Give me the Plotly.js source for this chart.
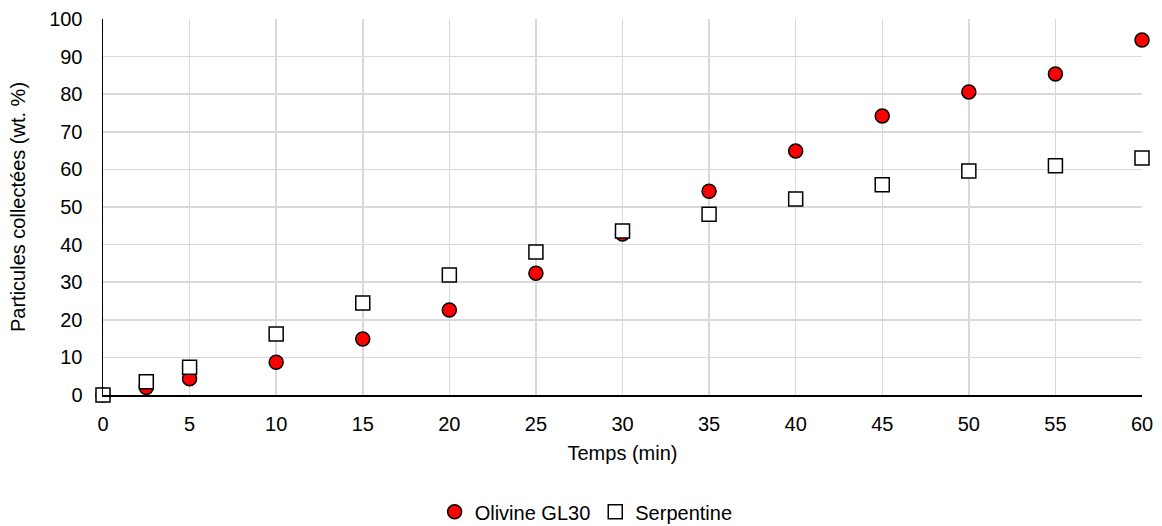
<!DOCTYPE html>
<html><head><meta charset="utf-8">
<script src="https://cdn.plot.ly/plotly-3.0.1.min.js"></script>
<style>html,body{margin:0;padding:0;background:#fff}</style>
</head><body><div id="chart" style="width:1162px;height:526px"></div>
<script>
const timeOlivine = [0, 2.5, 5, 10, 15, 20, 25, 30, 35, 40, 45, 50, 55, 60];
const olivine = [0, 2, 4.3, 8.7, 14.9, 22.6, 32.4, 42.8, 54.2, 64.9, 74.2, 80.6, 85.4, 94.4];
const timeSerp = [0, 2.5, 5, 10, 15, 20, 25, 30, 35, 40, 45, 50, 55, 60];
const serpentine = [0, 3.5, 7.4, 16.2, 24.5, 31.9, 38, 43.6, 48.1, 52.1, 55.9, 59.6, 61, 63];
const xTicks = [0,5,10,15,20,25,30,35,40,45,50,55,60];
const yTicks = [0,10,20,30,40,50,60,70,80,90,100];

const font = {family: 'Liberation Sans, Arial, sans-serif', size: 20, color: '#000'};
const traces = [
  {x: timeOlivine, y: olivine, name: 'Olivine GL30', mode: 'markers', type: 'scatter',
   marker: {symbol: 'circle', size: 14, color: '#ff0000', line: {color: '#000', width: 1.5}}, cliponaxis: false},
  {x: timeSerp, y: serpentine, name: 'Serpentine', mode: 'markers', type: 'scatter',
   marker: {symbol: 'square', size: 14, color: '#ffffff', line: {color: '#000', width: 1.5}}, cliponaxis: false}
];
const layout = {
  width: 1162, height: 526,
  margin: {l: 103, r: 20, t: 19, b: 131},
  paper_bgcolor: '#fff', plot_bgcolor: '#fff',
  font: font,
  showlegend: true,
  legend: {orientation: 'h', x: 0.465, xanchor: 'center', xref: 'paper', yref: 'container', y: 0.027, yanchor: 'middle', font: font, itemwidth: 30},
  xaxis: {range: [0, 60], tickvals: xTicks, showgrid: true, gridcolor: '#d9d9d9', gridwidth: 1.5,
    showline: true, linecolor: '#000', linewidth: 1.5, zeroline: false, automargin: false,
    ticks: 'outside', ticklen: 10, tickcolor: 'rgba(0,0,0,0)',
    title: {text: 'Temps (min)', font: font, standoff: 12}, tickfont: font},
  yaxis: {range: [0, 100], tickvals: yTicks, showgrid: true, gridcolor: '#d9d9d9', gridwidth: 1.5,
    showline: true, linecolor: '#000', linewidth: 1.5, zeroline: false, automargin: false,
    ticks: 'outside', ticklen: 15, tickcolor: 'rgba(0,0,0,0)',
    title: {text: 'Particules collectées (wt. %)', font: font, standoff: 18}, tickfont: font}
};
Plotly.newPlot('chart', traces, layout, {displayModeBar: false, staticPlot: true});
</script></body></html>
